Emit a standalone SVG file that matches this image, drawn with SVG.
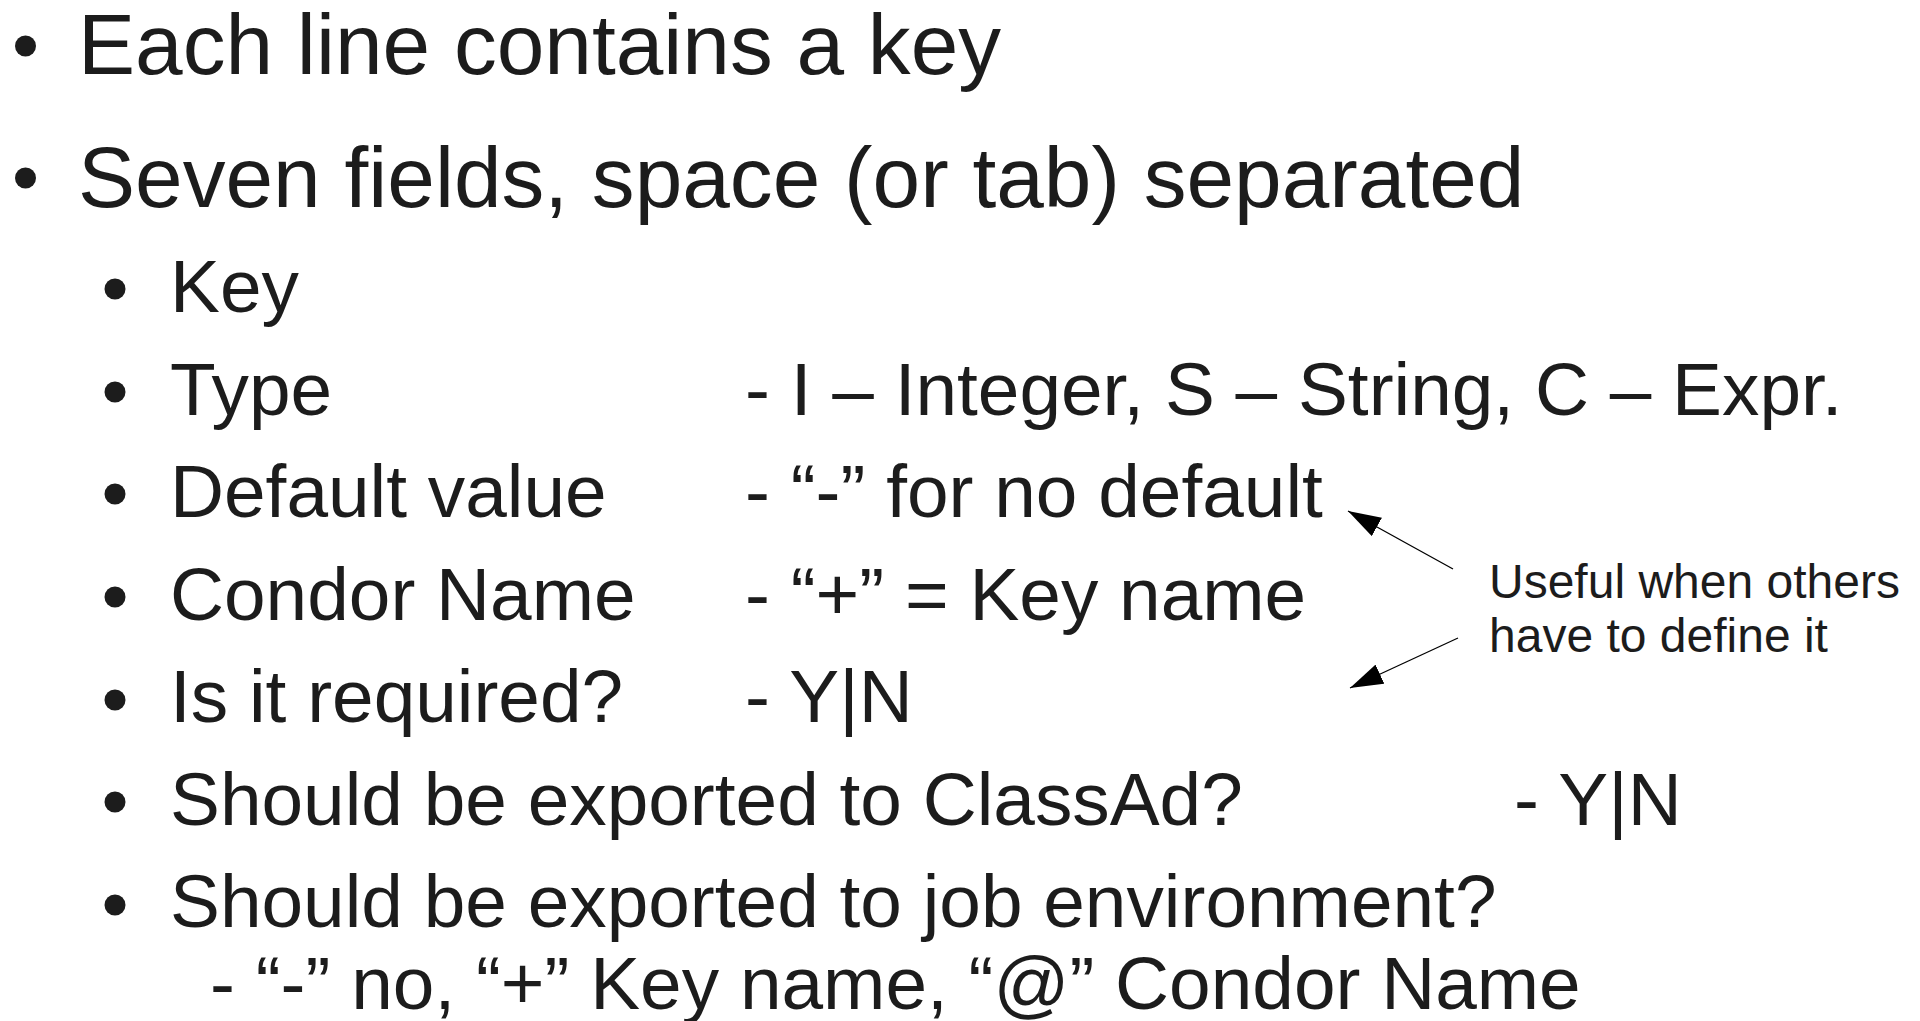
<svg xmlns="http://www.w3.org/2000/svg" width="1920" height="1021" viewBox="0 0 1920 1021">
<style>
text { font-family: "Liberation Sans", Arial, sans-serif; fill: #1c1c1c; }
.l1 { font-size: 85.6px; }
.l2 { font-size: 74.8px; }
.note { font-size: 48px; }
.dot { fill: #1c1c1c; }
.conn { stroke: #000; stroke-width: 1.3; fill: none; }
</style>
<defs>
<marker id="ah" viewBox="0 0 33 21" markerWidth="33" markerHeight="21" refX="33" refY="10.5" orient="auto" markerUnits="userSpaceOnUse">
<path d="M0,0 L33,10.5 L0,21 z" fill="#000"/>
</marker>
</defs>
<rect width="1920" height="1021" fill="#ffffff"/>

<g id="item-each-line">
<circle class="dot" cx="25.5" cy="46" r="10.5"/>
<text class="l1" x="78" y="74">Each line contains a key</text>
</g>
<g id="item-seven-fields">
<circle class="dot" cx="25.5" cy="178" r="10.5"/>
<text class="l1" x="78" y="207">Seven fields, space (or tab) separated</text>
</g>
<g id="field-key">
<circle class="dot" cx="115" cy="289" r="10.5"/>
<text class="l2" x="170" y="312">Key</text>
</g>
<g id="field-type">
<circle class="dot" cx="115" cy="392" r="10.5"/>
<text class="l2" x="170" y="415">Type</text>
<text class="l2" x="745" y="415">- I – Integer, S – String, C – Expr.</text>
</g>
<g id="field-default">
<circle class="dot" cx="115" cy="494" r="10.5"/>
<text class="l2" x="170" y="517">Default value</text>
<text class="l2" x="745" y="517">- “-” for no default</text>
</g>
<g id="field-condor-name">
<circle class="dot" cx="115" cy="597" r="10.5"/>
<text class="l2" x="170" y="620">Condor Name</text>
<text class="l2" x="745" y="620">- “+” = Key name</text>
</g>
<g id="field-required">
<circle class="dot" cx="115" cy="700" r="10.5"/>
<text class="l2" x="170" y="722">Is it required?</text>
<text class="l2" x="745" y="722">- Y|N</text>
</g>
<g id="field-classad">
<circle class="dot" cx="115" cy="802" r="10.5"/>
<text class="l2" x="170" y="825">Should be exported to ClassAd?</text>
<text class="l2" x="1514" y="825">- Y|N</text>
</g>
<g id="field-job-env">
<circle class="dot" cx="115" cy="905" r="10.5"/>
<text class="l2" x="170" y="927">Should be exported to job environment?</text>
<text class="l2" x="210" y="1009">- “-” no, “+” Key name, “@” Condor Name</text>
</g>
<g id="note-useful">
<text class="note" x="1489" y="598">Useful when others</text>
<text class="note" x="1489" y="652">have to define it</text>
</g>

<g id="connectors">
<line class="conn" x1="1453" y1="569" x2="1348" y2="511" marker-end="url(#ah)"/>
<line class="conn" x1="1458" y1="638" x2="1350" y2="688" marker-end="url(#ah)"/>
</g>
</svg>
